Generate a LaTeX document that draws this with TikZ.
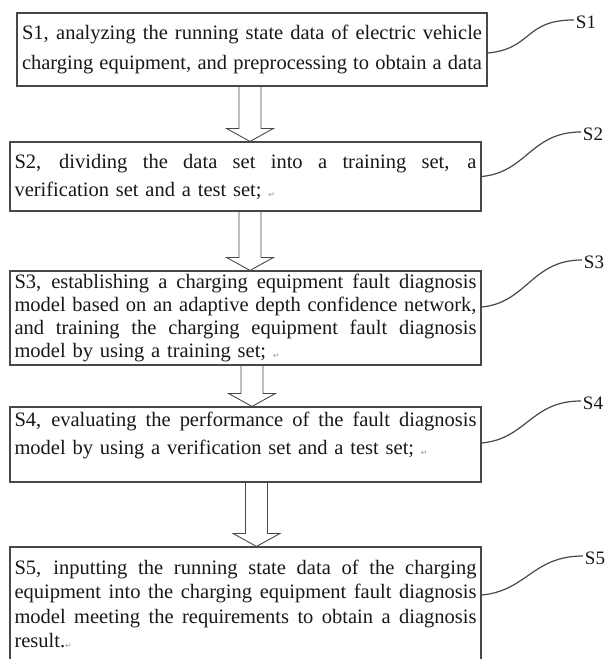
\documentclass[tikz,border=0pt]{standalone}
\usepackage{fontspec}
\setmainfont{Liberation Serif}
\newfontfamily\markfont{DejaVu Sans}
\usetikzlibrary{calc}
\setlength{\parindent}{0pt}
\definecolor{boxgray}{RGB}{72,72,72}
\definecolor{inkgray}{RGB}{24,24,24}

% one text line stretched to the full box width
\newcommand\fullline[1]{{\spaceskip=0pt\relax\makebox[\hsize][s]{#1}}}
% small paragraph mark left in the printed text
\newcommand\retmark{{\markfont\fontsize{8}{8}\selectfont\color{gray!80}\raisebox{-1pt}{↵}}}

\begin{document}
\begin{tikzpicture}[x=1pt, y=-1pt,
  every node/.style={text=inkgray},
  stepbox/.style={draw=boxgray, line width=1.1pt, inner xsep=4.5pt, inner ysep=0pt,
                  text width=462pt, minimum height=#1},
  stepbox/.default=70pt,
  steplabel/.style={font=\fontsize{19}{19}\selectfont, inner sep=2pt},
  leadline/.style={draw=boxgray, line width=1.2pt},
  bigarrow/.style={draw=boxgray, line width=0.9pt, to path={
      let \p1=(\tikztostart), \p2=(\tikztotarget) in
      (\x1-11pt,\y1) -- (\x1-11pt,\y2+13pt) -- (\x1-23.5pt,\y2+13pt) -- (\x1,\y2)
      -- (\x1+23.5pt,\y2+13pt) -- (\x1+11pt,\y2+13pt) -- (\x1+11pt,\y1)}},
]
\useasboundingbox (0,0) rectangle (613,659);
\clip (0,0) rectangle (613,659);

%% -- step boxes --
\node[stepbox=73pt, text width=460pt, inner xsep=5pt,
      font=\fontsize{20.5}{30}\selectfont] (s1) at (252,49.5)
  {\fullline{S1, analyzing the running state data of electric vehicle}\\
   \fullline{charging equipment, and preprocessing to obtain a data}};
\node[stepbox=69pt, font=\fontsize{20.5}{28}\selectfont] (s2) at (245.5,176.5)
  {\fullline{S2, dividing the data set into a training set, a}\\
   verification set and a test set; \retmark};
\node[stepbox=94pt, font=\fontsize{20.5}{23}\selectfont] (s3) at (245.5,318)
  {\fullline{S3, establishing a charging equipment fault diagnosis}\\
   \fullline{model based on an adaptive depth confidence network,}\\
   \fullline{and training the charging equipment fault diagnosis}\\
   model by using a training set; \retmark};
\node[stepbox=75pt, text depth=50pt, font=\fontsize{20.5}{28}\selectfont] (s4) at (245.5,444.5)
  {\fullline{S4, evaluating the performance of the fault diagnosis}\\
   model by using a verification set and a test set; \retmark};
\node[stepbox=115pt, font=\fontsize{20.5}{24.5}\selectfont] (s5) at (245.5,604.5)
  {\fullline{S5, inputting the running state data of the charging}\\
   \fullline{equipment into the charging equipment fault diagnosis}\\
   \fullline{model meeting the requirements to obtain a diagnosis}\\
   result.\retmark};

%% -- hollow arrows between the steps --
\draw[bigarrow] ([xshift=-2pt]s1.south) to (s2.north);
\draw[bigarrow] ([xshift=4.5pt]s2.south) to (s3.north);
\draw[bigarrow] ([xshift=6.5pt]s3.south) to (s4.north);
\draw[bigarrow] ([xshift=11pt]s4.south) to (s5.north);

%% -- step labels with leader lines --
\node[steplabel] (l1) at (586,22) {S1};
\node[steplabel] (l2) at (593,134) {S2};
\node[steplabel] (l3) at (594,262) {S3};
\node[steplabel] (l4) at (593,403) {S4};
\node[steplabel] (l5) at (595,558) {S5};

\draw[leadline] ([yshift=-3.5pt]s1.east) .. controls +(45,-4) and +(-50,0) .. ([yshift=2pt]l1.west);
\draw[leadline] (s2.east) .. controls +(45,-4) and +(-50,0) .. ([yshift=2pt]l2.west);
\draw[leadline] ([yshift=11pt]s3.east) .. controls +(45,-4) and +(-50,0) .. ([yshift=2pt]l3.west);
\draw[leadline] ([yshift=1.5pt]s4.east) .. controls +(45,-4) and +(-50,0) .. ([yshift=2pt]l4.west);
\draw[leadline] ([yshift=9.5pt]s5.east) .. controls +(45,-4) and +(-50,0) .. ([yshift=2pt]l5.west);

\end{tikzpicture}
\end{document}
